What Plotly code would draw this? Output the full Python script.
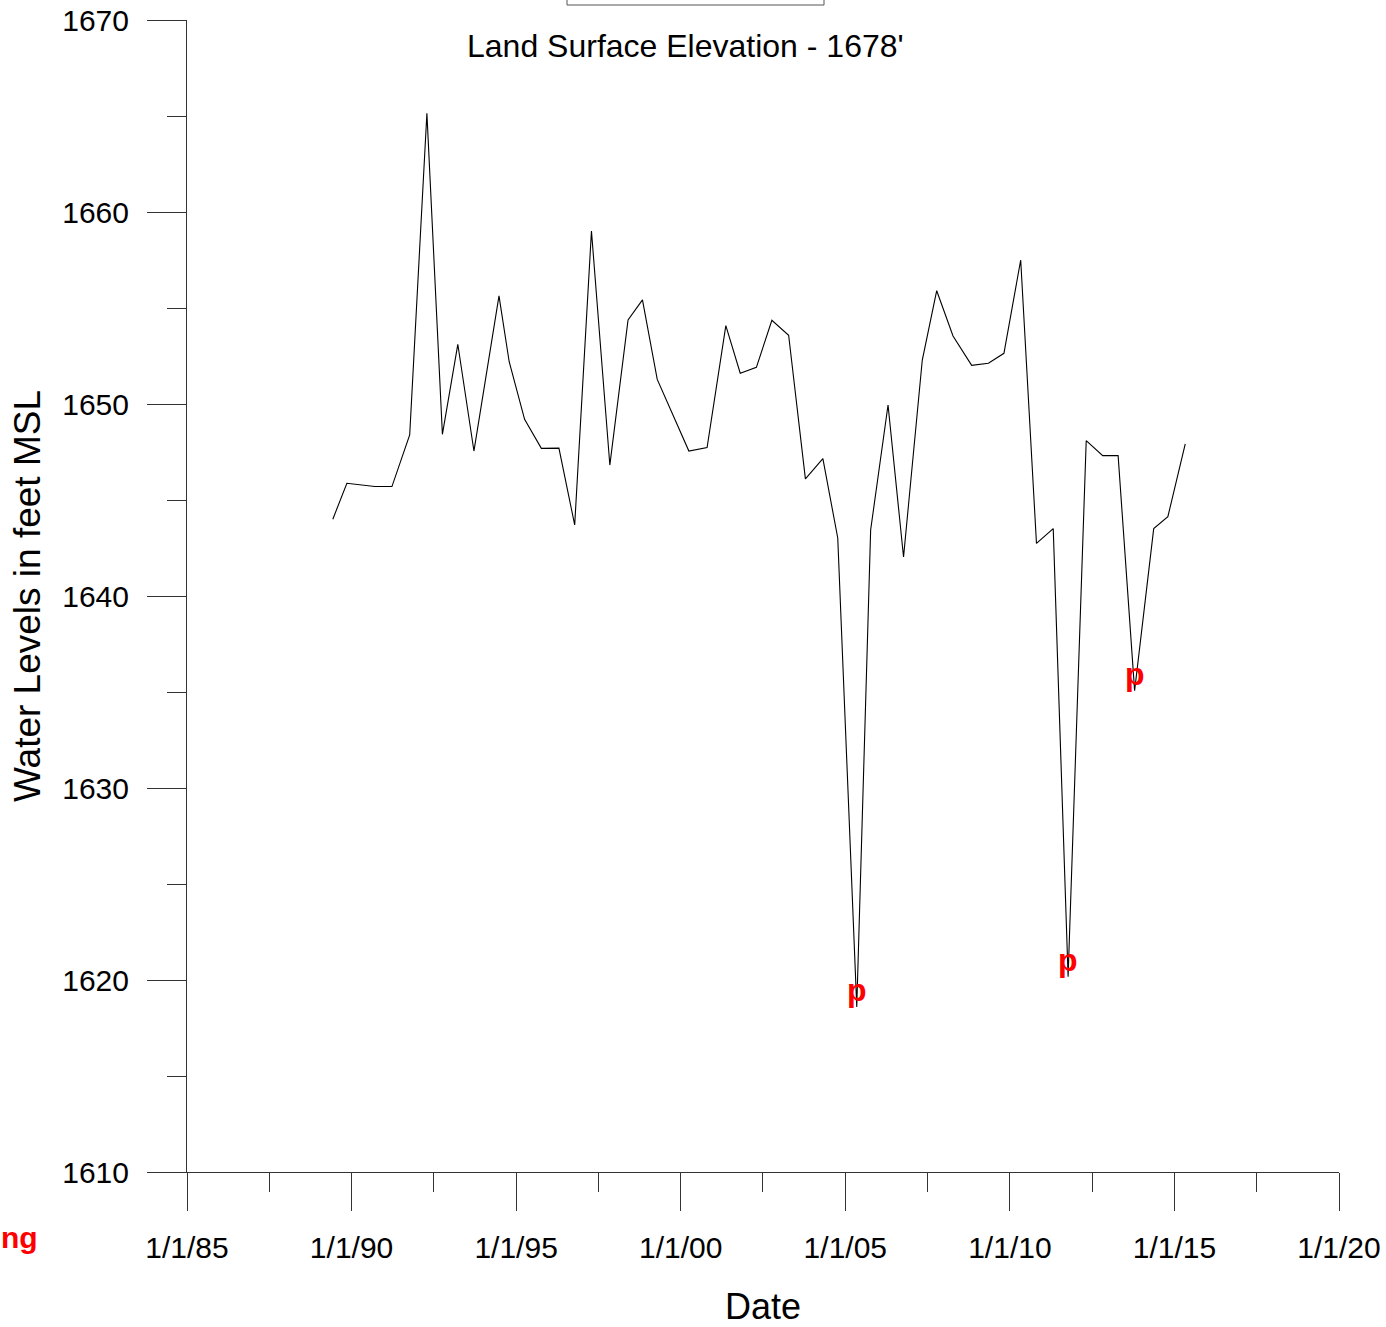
import plotly.graph_objects as go

dates = [
    "1989-06-07", "1989-11-10", "1990-09-16", "1991-03-25", "1991-10-08",
    "1992-04-16", "1992-10-05", "1993-03-25", "1993-09-20", "1994-06-25",
    "1994-10-16", "1995-04-05", "1995-10-08", "1996-04-20", "1996-10-12",
    "1997-04-16", "1997-11-06", "1998-05-27", "1998-11-03", "1999-04-16",
    "2000-04-01", "2000-10-20", "2001-05-16", "2001-10-23", "2002-04-20",
    "2002-10-09", "2003-04-13", "2003-10-16", "2004-04-27", "2004-10-09",
    "2005-05-08", "2005-10-09", "2006-04-20", "2006-10-09", "2007-05-05",
    "2007-10-12", "2008-04-10", "2008-11-03", "2009-05-08", "2009-10-27",
    "2010-05-01", "2010-10-23", "2011-04-27", "2011-10-09", "2012-04-27",
    "2012-10-27", "2013-04-16", "2013-10-16", "2014-05-16", "2014-10-20",
    "2015-05-01",
]
levels = [
    1644.0, 1645.87, 1645.7, 1645.7, 1648.39,
    1665.14, 1648.42, 1653.11, 1647.55, 1655.63,
    1652.2, 1649.2, 1647.69, 1647.7, 1643.7,
    1659.01, 1646.82, 1654.38, 1655.42, 1651.28,
    1647.55, 1647.73, 1654.08, 1651.6, 1651.91,
    1654.36, 1653.58, 1646.1, 1647.15, 1643.02,
    1618.6, 1643.44, 1649.95, 1642.03, 1652.29,
    1655.9, 1653.54, 1652.01, 1652.12, 1652.64,
    1657.5, 1642.74, 1643.51, 1620.17, 1648.09,
    1647.31, 1647.31, 1635.07, 1643.51, 1644.13,
    1647.92,
]
flags = [""] * len(levels)
for i in (30, 43, 47):
    flags[i] = "p"

x_tickvals = ["1985-01-01", "1990-01-01", "1995-01-01", "2000-01-01",
              "2005-01-01", "2010-01-01", "2015-01-01", "2020-01-01"]
x_ticktext = ["1/1/85", "1/1/90", "1/1/95", "1/1/00", "1/1/05", "1/1/10", "1/1/15", "1/1/20"]
x_minor = ["1987-07-02", "1992-07-02", "1997-07-02", "2002-07-02",
           "2007-07-02", "2012-07-02", "2017-07-02"]
y_tickvals = [1610, 1620, 1630, 1640, 1650, 1660, 1670]

title_text = "Land Surface Elevation - 1678'"
x_title = "Date"
y_title = "Water Levels in feet MSL"
corner_text = "ng"

FONT = "Arial, 'Liberation Sans', sans-serif"
AX = "#333333"

fig = go.Figure()
fig.add_trace(go.Scatter(
    x=dates, y=levels, mode="lines",
    line=dict(color="black", width=1.1),
    showlegend=False, hoverinfo="skip",
))

annotations = []
for d, v, f in zip(dates, levels, flags):
    if f:
        annotations.append(dict(
            x=d, y=v, xref="x", yref="y", text=f, showarrow=False,
            xanchor="center", yanchor="bottom", yshift=-3,
            font=dict(family=FONT, size=32, color="#ff0000", weight="bold"),
        ))

annotations.append(dict(
    x=(685 - 187) / 1152, y=(1172 - 46) / 1152, xref="paper", yref="paper",
    text=title_text, showarrow=False, xanchor="center", yanchor="middle",
    font=dict(family=FONT, size=32, color="black"),
))
annotations.append(dict(
    x=(40 - 187) / 1152, y=(1172 - 1237) / 1152, xref="paper", yref="paper",
    text=corner_text, showarrow=False, xanchor="right", yanchor="middle",
    font=dict(family=FONT, size=30, color="#ff0000", weight="bold"),
))

fig.update_layout(
    width=1386, height=1327,
    margin=dict(l=187, r=47, t=20, b=155, autoexpand=False),
    paper_bgcolor="white", plot_bgcolor="white",
    font=dict(family=FONT, color="black"),
    annotations=annotations,
    shapes=[dict(
        type="rect", xref="paper", yref="paper",
        x0=(567 - 187) / 1152, x1=(824 - 187) / 1152,
        y0=(1172 - 5) / 1152, y1=1.1,
        line=dict(color="#555555", width=1), fillcolor="rgba(0,0,0,0)",
    )],
)

fig.update_xaxes(
    type="date", range=["1985-01-01", "2020-01-01"], automargin=False,
    tickmode="array", tickvals=x_tickvals, ticktext=x_ticktext,
    ticks="outside", ticklen=38, tickwidth=1, tickcolor=AX,
    tickfont=dict(family=FONT, size=30, color="black"),
    ticklabelstandoff=11, ticklabeloverflow="allow",
    minor=dict(tickmode="array", tickvals=x_minor, ticks="outside",
               ticklen=19, tickwidth=1, tickcolor=AX, showgrid=False),
    showline=True, linecolor=AX, linewidth=1,
    showgrid=False, zeroline=False,
    title=dict(text=x_title, font=dict(family=FONT, size=36, color="black"), standoff=30),
)
fig.update_yaxes(
    range=[1610, 1670], automargin=False,
    tickmode="array", tickvals=y_tickvals,
    ticks="outside", ticklen=39, tickwidth=1, tickcolor=AX,
    tickfont=dict(family=FONT, size=30, color="black"),
    ticklabelstandoff=12, ticklabeloverflow="allow",
    minor=dict(dtick=5, ticks="outside", ticklen=19, tickwidth=1, tickcolor=AX, showgrid=False),
    showline=True, linecolor=AX, linewidth=1,
    showgrid=False, zeroline=False,
    title=dict(text=y_title, font=dict(family=FONT, size=37, color="black"), standoff=10),
)

fig.write_html(
    "out.html",
    config={"displayModeBar": False},
    post_script="document.body.style.margin='0';document.body.style.overflow='hidden';",
)
